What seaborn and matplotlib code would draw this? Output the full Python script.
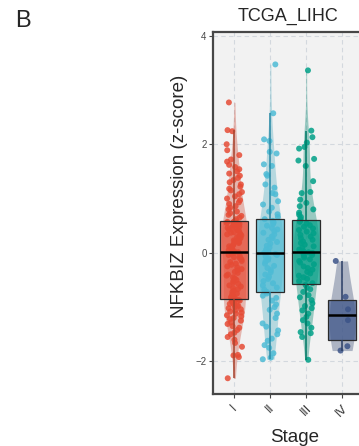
import matplotlib
matplotlib.use('Agg')
import matplotlib.pyplot as plt
import numpy as np
import pandas as pd
import seaborn as sns
from matplotlib.colors import to_rgba

stages = ['I', 'II', 'III', 'IV']
colors = ['#E64B35', '#4DBBD5', '#00A087', '#3C5488']
whisker_colors = ['#a8442e', '#2a8aa6', '#007a66', '#2c3f66']

# NFKBIZ z-scores, one list per stage
stage_i = [-2.31, -1.92, -1.89, -1.88, -1.73, -1.66, -1.6, -1.55, -1.5, -1.47,
           -1.42, -1.38, -1.35, -1.31, -1.28, -1.25, -1.22, -1.2, -1.17, -1.15,
           -1.12, -1.1, -1.08, -1.06, -1.04, -1.02, -1.0, -0.98, -0.97, -0.95,
           -0.94, -0.92, -0.91, -0.9, -0.89, -0.88, -0.87,
           -0.86, -0.85, -0.82, -0.8, -0.77, -0.75, -0.72, -0.7, -0.67, -0.65,
           -0.62, -0.6, -0.57, -0.55, -0.52, -0.5, -0.47, -0.45, -0.42, -0.4,
           -0.37, -0.35, -0.32, -0.3, -0.27, -0.25, -0.22, -0.2, -0.17, -0.15,
           -0.12, -0.1, -0.08, -0.06, -0.04, -0.02, 0.0, 0.01,
           0.03, 0.05, 0.07, 0.09, 0.1, 0.12, 0.14, 0.16, 0.18, 0.2,
           0.21, 0.23, 0.25, 0.27, 0.29, 0.3, 0.32, 0.34, 0.35, 0.37,
           0.38, 0.4, 0.41, 0.43, 0.44, 0.46, 0.47, 0.48, 0.5, 0.51,
           0.52, 0.53, 0.54, 0.55, 0.56, 0.57, 0.57,
           0.59, 0.62, 0.65, 0.68, 0.7, 0.73, 0.76, 0.8, 0.83, 0.86,
           0.9, 0.93, 0.97, 1.0, 1.04, 1.08, 1.12, 1.15, 1.18, 1.22,
           1.26, 1.3, 1.34, 1.38, 1.42, 1.46, 1.5, 1.54, 1.58, 1.62,
           1.68, 1.72, 1.8, 1.89, 2.0, 2.24, 2.26, 2.77]
stage_ii = [-1.96, -1.93, -1.85, -1.75, -1.7, -1.62, -1.58, -1.5, -1.43, -1.36,
            -1.3, -1.2, -1.12, -1.05, -1.0, -0.95, -0.88, -0.83, -0.79, -0.75,
            -0.72, -0.68, -0.64, -0.6, -0.56, -0.52, -0.48, -0.44, -0.4, -0.36,
            -0.32, -0.28, -0.24, -0.2, -0.16, -0.13, -0.1, -0.07, -0.04, -0.02,
            0.0, 0.03, 0.06, 0.1, 0.13, 0.17, 0.2, 0.24, 0.27, 0.3,
            0.34, 0.37, 0.4, 0.43, 0.46, 0.5, 0.53, 0.56, 0.59, 0.62,
            0.66, 0.71, 0.76, 0.83, 0.89, 0.95, 1.08, 1.1, 1.2, 1.26,
            1.42, 1.45, 1.6, 1.63, 1.83, 1.86, 2.06, 2.09, 2.57, 3.47]
stage_iii = [-1.97, -1.55, -1.48, -1.46, -1.38, -1.3, -1.24, -1.18, -1.12, -1.06,
             -1.02, -0.98, -0.93, -0.87, -0.82, -0.78, -0.72, -0.67, -0.64, -0.59,
             -0.56, -0.52, -0.48, -0.45, -0.42, -0.38, -0.35, -0.31, -0.28, -0.25,
             -0.21, -0.18, -0.15, -0.12, -0.09, -0.06, -0.04, -0.02, 0.0, 0.01,
             0.03, 0.06, 0.09, 0.12, 0.15, 0.18, 0.21, 0.24, 0.27, 0.3,
             0.33, 0.36, 0.39, 0.42, 0.45, 0.48, 0.51, 0.54, 0.57, 0.59,
             0.62, 0.66, 0.7, 0.74, 0.8, 0.86, 0.92, 0.98, 1.1, 1.12,
             1.32, 1.6, 1.7, 1.73, 1.92, 1.95, 2.03, 2.13, 2.25, 3.36]
stage_iv = [-1.8, -1.72, -1.24, -1.04, -0.81, -0.15]

values = [stage_i, stage_ii, stage_iii, stage_iv]
df = pd.DataFrame({
    'Stage': np.repeat(stages, [len(v) for v in values]),
    'z': np.concatenate(values),
})
pal = dict(zip(stages, colors))

sns.set_style('white')
plt.rcParams['font.family'] = ['Liberation Sans', 'DejaVu Sans']

fig = plt.figure(figsize=(3.59, 4.46), dpi=100)
ax = fig.add_axes([0.593, 0.1166, 0.42, 0.812])
ax.set_facecolor('#f2f2f2')

sns.violinplot(data=df, x='Stage', y='z', hue='Stage', order=stages,
               palette=pal, inner=None, cut=0, density_norm='width',
               width=0.72, linewidth=0, alpha=0.4, legend=False, ax=ax)
np.random.seed(7)
sns.stripplot(data=df, x='Stage', y='z', hue='Stage', order=stages,
              palette=pal, jitter=0.22, size=4.3, alpha=0.85, linewidth=0,
              legend=False, ax=ax, zorder=2)
sns.boxplot(data=df, x='Stage', y='z', hue='Stage', order=stages,
            palette=pal, width=0.78, showfliers=False, showcaps=False,
            linecolor='#2b2b2b', linewidth=0.9,
            medianprops=dict(color='black', linewidth=1.8),
            legend=False, ax=ax)

for cont, col, wcol in zip(ax.containers, colors, whisker_colors):
    for b in cont.boxes:
        b.set_facecolor(to_rgba(col, 0.72))
        b.set_zorder(3)
    for w in cont.whiskers:
        w.set_color(wcol)
        w.set_linewidth(1.1)
        w.set_zorder(4)
    for m in cont.medians:
        m.set_zorder(5)

ax.set_xlim(-0.6, 3.6)
ax.set_ylim(-2.6, 4.07)
ax.set_yticks([-2, 0, 2, 4])
ax.grid(True, linestyle=(0, (4, 3)), color='#d3d8de', linewidth=0.8)
ax.set_axisbelow(True)

for s in ['left', 'top', 'bottom']:
    ax.spines[s].set_color('#474747')
    ax.spines[s].set_linewidth(1.6)
ax.spines['right'].set_visible(False)

ax.tick_params(axis='y', length=3, width=0.8, color='#474747',
               labelsize=7, labelcolor='#474747', pad=1.5, left=True)
ax.tick_params(axis='x', length=3, width=0.8, color='#474747',
               labelsize=9, labelcolor='#333333', pad=3, bottom=True)
plt.setp(ax.get_xticklabels(), rotation=45, ha='center')

ax.set_title('TCGA_LIHC', fontsize=13, pad=8)
ax.set_xlabel('Stage', fontsize=13.5)
ax.set_ylabel('NFKBIZ Expression (z-score)', fontsize=13.5, va='center')
ax.xaxis.set_label_coords(0.543, -0.097)
ax.yaxis.set_label_coords(-0.219, 0.546)

fig.text(15 / 359, 1 - 27 / 446, 'B', fontsize=17, va='baseline', ha='left')

fig.savefig('out.png', dpi=100)
